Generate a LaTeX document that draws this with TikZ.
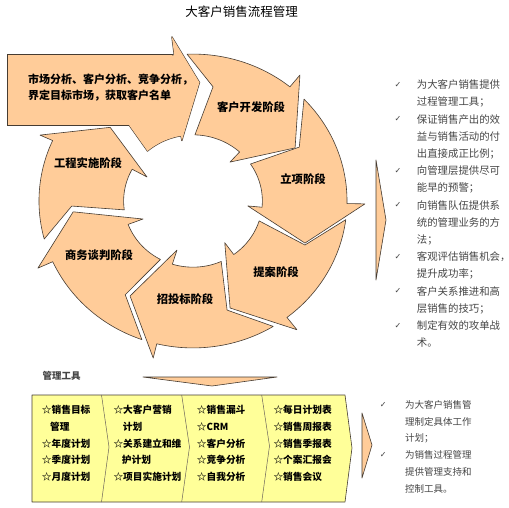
\documentclass[tikz,border=0pt]{standalone}
\usepackage{fontspec}
\setmainfont{Noto Sans CJK SC}
\newfontfamily\symfont{DejaVu Sans}
\definecolor{peach}{RGB}{255,204,153}
\definecolor{pale}{RGB}{255,255,153}
\definecolor{edge}{RGB}{70,60,50}
\definecolor{txtgray}{RGB}{70,70,70}
\tikzset{
 arrowshape/.style={fill=peach, draw=edge, line width=0.6pt, line join=round},
 ringscope/.style={shift={(193,201)}, xscale=1.02, yscale=-0.973},
 ringlabel/.style={inner sep=0pt, font=\fontsize{11.3}{13}\selectfont\bfseries},
 mktline/.style={anchor=west, inner sep=0pt, font=\fontsize{11}{13}\selectfont\bfseries},
 listline/.style={anchor=west, inner sep=0pt, text=txtgray, font=\fontsize{10.4}{12}\selectfont},
 smalline/.style={anchor=west, inner sep=0pt, text=txtgray, font=\fontsize{9.5}{11}\selectfont},
 checkmk/.style={inner sep=0pt, text=txtgray, font=\symfont\fontsize{8}{9}\selectfont},
 tabline/.style={anchor=west, inner sep=0pt, font=\fontsize{9.7}{11}\selectfont\bfseries},
 divline/.style={draw=edge!80, line width=0.5pt},
}
\begin{document}
\begin{tikzpicture}[x=1pt,y=-1pt]
\useasboundingbox (0,0) rectangle (509,507);
\fill[white] (0,0) rectangle (509,507);
\node (title) at (241.5,12) {\fontsize{12.5}{14}\selectfont 大客户销售流程管理};

% ring arrows
\begin{scope}[ringscope]
\foreach \tO/\nA/\nR/\tI/\hO/\hR/\tA/\tR/\iA/\iR in {
  92.2/80.5/119/88.4/51/166.6/28.6/114/47.8/54,
  43.9/28/118/34/-1/168.6/-21.5/118/-5.4/54,
  -7.3/-22.4/118.7/-17.5/-52.4/167/-71.7/115.8/-54/53,
  -58.6/-73.4/117/-66/-103.6/166/-122.3/115.5/-107.3/52.8,
  -109.4/-124.6/117/-118/-155.6/167/-174.6/118/-159.3/52.4,
  -165/-177.5/119/-172.3/-204.3/164.6/-223/111/-208.7/51.4}{
  \path[arrowshape] (\tO:151) -- plot[domain=\tO:\hO, samples=30, variable=\vv] (\vv:151)
    -- (\hO:\hR) -- (\tA:\tR) -- (\iA:\iR) -- (\iA:68)
    -- plot[domain=\iA:\tI, samples=20, variable=\vv] (\vv:68) -- (\nA:\nR) -- cycle;
}
% first arrow, stroked wide (union with rectangle)
\path[arrowshape, line width=1.2pt] (140:151) -- plot[domain=140:97, samples=30, variable=\vv] (\vv:151)
    -- (97:170) -- (87:122) -- (100:63) -- (100:68)
    -- plot[domain=100:131, samples=20, variable=\vv] (\vv:68) -- (128:120) -- cycle;
\end{scope}
\path[fill=peach, draw=edge, line width=1.2pt] (8,55) rectangle (172,125);
\begin{scope}[ringscope]
\fill[peach] (140:151) -- plot[domain=140:97, samples=30, variable=\vv] (\vv:151)
    -- (97:170) -- (87:122) -- (100:63) -- (100:68)
    -- plot[domain=100:131, samples=20, variable=\vv] (\vv:68) -- (128:120) -- cycle;
\end{scope}
\fill[peach] (8,55) rectangle (172,125);

\node[mktline] (mkt1) at (28,79.5) {市场分析、客户分析、竞争分析，};
\node[mktline] (mkt2) at (28,96) {界定目标市场，获取客户名单};

\node[ringlabel] (khkf) at (251,107) {客户开发阶段};
\node[ringlabel] (lx) at (303,179) {立项阶段};
\node[ringlabel] (ta) at (276,272) {提案阶段};
\node[ringlabel] (ztb) at (185,299) {招投标阶段};
\node[ringlabel] (swtp) at (99,255) {商务谈判阶段};
\node[ringlabel] (gcss) at (88,163) {工程实施阶段};

% right chevron
\path[arrowshape] (376,160) -- (386,220) -- (376,280) -- cycle;

% right list
\foreach \i/\s in {0/为大客户销售提供, 1/过程管理工具；, 2/保证销售产出的效, 3/益与销售活动的付,
  4/出直接成正比例；, 5/向管理层提供尽可, 6/能早的预警；, 7/向销售队伍提供系, 8/统的管理业务的方,
  9/法；, 10/客观评估销售机会\makebox[4pt][l]{，}, 11/提升成功率；, 12/客户关系推进和高, 13/层销售的技巧；,
  14/制定有效的攻单战, 15/术。}{
  \node[listline] (r\i) at (416.7,{85+17.2*\i}) {\s};
}
\foreach \i in {0,2,5,7,10,12,14}{
  \node[checkmk] (c\i) at (398,{85+17.2*\i}) {✓};
}

% management tools
\node[inner sep=0pt, text=txtgray, font=\fontsize{9.5}{11}\selectfont\bfseries] (tools) at (61.5,376) {管理工具};
\path[arrowshape] (143,377) -- (277,377) -- (212,386) -- cycle;

\path[fill=pale, draw=edge, line width=0.6pt, line join=round] (32,395) -- (345,395) -- (352,448) -- (345,502) -- (32,502) -- cycle;
\draw[divline] (101.5,395) -- (109,447) -- (101.5,502);
\draw[divline] (181.7,395) -- (189.5,447) -- (181.7,502);
\draw[divline] (261.7,395) -- (269.5,446) -- (261.7,502);

\node[tabline] (a1) at (41.7,410) {☆销售目标};
\node[tabline] (a2) at (50,426.7) {管理};
\node[tabline] (a3) at (41.7,443.4) {☆年度计划};
\node[tabline] (a4) at (41.7,460.1) {☆季度计划};
\node[tabline] (a5) at (41.7,476.8) {☆月度计划};

\node[tabline] (b1) at (113.3,410) {☆大客户营销};
\node[tabline] (b2) at (122.7,426.7) {计划};
\node[tabline] (b3) at (113.3,443.4) {☆关系建立和维};
\node[tabline] (b4) at (121.7,460.1) {护计划};
\node[tabline] (b5) at (113.3,476.8) {☆项目实施计划};

\node[tabline] (d1) at (196.7,410) {☆销售漏斗};
\node[tabline] (d2) at (196.7,426.7) {☆CRM};
\node[tabline] (d3) at (196.7,443.4) {☆客户分析};
\node[tabline] (d4) at (196.7,460.1) {☆竞争分析};
\node[tabline] (d5) at (196.7,476.8) {☆自我分析};

\node[tabline] (e1) at (273.3,410) {☆每日计划表};
\node[tabline] (e2) at (273.3,426.7) {☆销售周报表};
\node[tabline] (e3) at (273.3,443.4) {☆销售季报表};
\node[tabline] (e4) at (273.3,460.1) {☆个案汇报会};
\node[tabline] (e5) at (273.3,476.8) {☆销售会议};

% bottom right chevron and text
\path[arrowshape] (362,413) -- (372,445) -- (362,478) -- cycle;
\foreach \i/\s in {0/为大客户销售管, 1/理制定具体工作, 2/计划；, 3/为销售过程管理, 4/提供管理支持和, 5/控制工具。}{
  \node[smalline] (s\i) at (405,{405+16.7*\i}) {\s};
}
\node[checkmk] (sc0) at (383.3,405) {✓};
\node[checkmk] (sc3) at (383.3,455.1) {✓};
\end{tikzpicture}
\end{document}
